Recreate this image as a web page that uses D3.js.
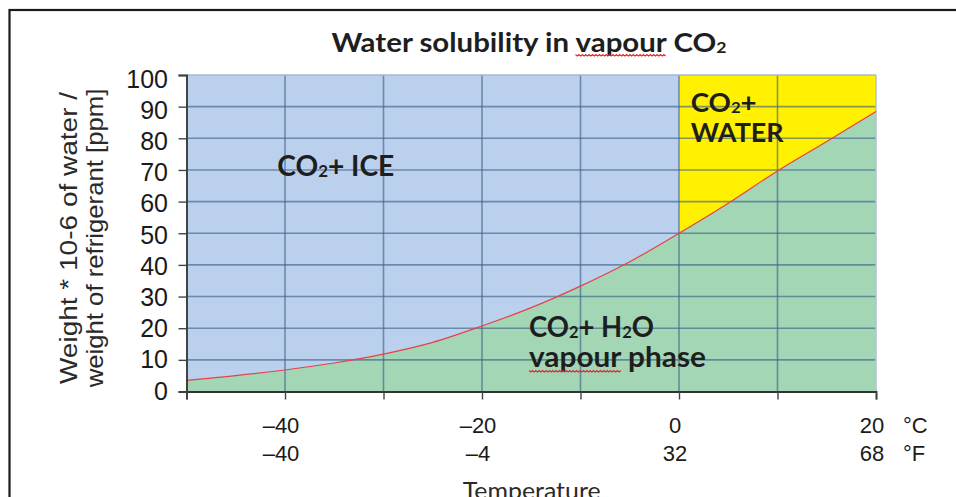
<!DOCTYPE html>
<html>
<head>
<meta charset="utf-8">
<script src="https://cdn.jsdelivr.net/npm/d3@7/dist/d3.min.js"></script>
<style>
  html, body { margin: 0; padding: 0; background: #fff; }
  svg { display: block; }
</style>
</head>
<body>
<svg id="chart" width="956" height="497"></svg>
<script>
// Water solubility in vapour CO2: saturation limit (ppm by weight) vs temperature
const tempC = [-50, -45, -40, -35, -30, -25, -20, -15, -10, -5, 0, 5, 10, 15, 20];
const solubilityPpm = [3.5, 5.0, 6.8, 9.0, 11.8, 15.5, 20.7, 26.5, 33.3, 41.0, 50.0, 59.5, 69.7, 79.0, 88.5];
const yTicks = [0, 10, 20, 30, 40, 50, 60, 70, 80, 90, 100];
const xTicks = [-50, -40, -30, -20, -10, 0, 10, 20];
const xLabelC = [-40, -20, 0, 20];
const xLabelCText = ["–40", "–20", "0", "20"];
const xLabelFText = ["–40", "–4", "32", "68"];

const svg = d3.select("#chart");
const x = d3.scaleLinear().domain([-50, 20]).range([186.5, 876]);
const y = d3.scaleLinear().domain([0, 100]).range([391.5, 75]);
// tick numbers are set on a slightly tighter pitch than the grid
const yLab = d3.scaleLinear().domain([0, 100]).range([390.5, 78.5]);

const points = tempC.map((t, i) => [t, solubilityPpm[i]]);

// outer frame
svg.append("rect")
  .attr("x", 9.5).attr("y", 10).attr("width", 1000).attr("height", 600)
  .attr("fill", "none").attr("stroke", "#1a1a1a").attr("stroke-width", 2.2);

// phase regions: ice above the curve below 0 °C, liquid water above it above 0 °C
svg.append("rect")
  .attr("x", x(-50)).attr("y", y(100))
  .attr("width", x(0) - x(-50)).attr("height", y(0) - y(100))
  .attr("fill", "#bad0ec");
svg.append("rect")
  .attr("x", x(0)).attr("y", y(100))
  .attr("width", x(20) - x(0)).attr("height", y(0) - y(100))
  .attr("fill", "#fff100");

const curve = d3.curveMonotoneX;
svg.append("path")
  .datum(points)
  .attr("fill", "#a3d6b5")
  .attr("d", d3.area().curve(curve).x(d => x(d[0])).y0(y(0)).y1(d => y(d[1])));

// grid
const grid = svg.append("g").attr("stroke", "rgba(60,95,135,0.62)").attr("stroke-width", 1.6);
yTicks.filter(v => v > 0 && v < 100).forEach(v => {
  grid.append("line").attr("x1", x(-50)).attr("x2", x(20)).attr("y1", y(v)).attr("y2", y(v));
});
xTicks.filter(v => v > -50 && v < 20).forEach(v => {
  grid.append("line").attr("x1", x(v)).attr("x2", x(v)).attr("y1", y(0)).attr("y2", y(100));
});
// light top and right borders of the plot
svg.append("line").attr("x1", x(-50)).attr("x2", x(20)).attr("y1", y(100)).attr("y2", y(100))
  .attr("stroke", "#a8b8cc").attr("stroke-width", 1.6);
svg.append("line").attr("x1", x(20)).attr("x2", x(20)).attr("y1", y(0)).attr("y2", y(100))
  .attr("stroke", "#b4c3d3").attr("stroke-width", 1.6);

// saturation curve
svg.append("path")
  .datum(points)
  .attr("fill", "none")
  .attr("stroke", "#e8404a")
  .attr("stroke-width", 1.2)
  .attr("d", d3.line().curve(curve).x(d => x(d[0])).y(d => y(d[1])));

// axes
const yAxis = d3.axisLeft(y).tickValues(yTicks).tickSize(8).tickFormat("");
const xAxis = d3.axisBottom(x).tickValues(xTicks).tickSize(8).tickFormat("");
const gy = svg.append("g").attr("transform", `translate(${x(-50)},0)`).call(yAxis);
const gx = svg.append("g").attr("transform", `translate(0,${y(0)})`).call(xAxis);
[gy, gx].forEach(g => {
  g.select(".domain").attr("stroke", "#333").attr("stroke-width", 1.8);
  g.selectAll(".tick line").attr("stroke", "#444").attr("stroke-width", 1.4);
});

// y tick labels
svg.append("g").selectAll("text").data(yTicks).join("text")
  .attr("x", 168)
  .attr("y", d => yLab(d))
  .attr("dy", "0.36em")
  .attr("text-anchor", "end")
  .attr("font-family", "'Liberation Sans Narrow', 'Arial Narrow', sans-serif")
  .attr("font-size", 25)
  .attr("fill", "#1a1a1a")
  .text(d => d);

// x tick labels, °C and °F rows
const xl = svg.append("g")
  .attr("font-family", "'Liberation Sans', Arial, sans-serif")
  .attr("font-size", 22).attr("fill", "#1a1a1a").attr("text-anchor", "middle");
xl.selectAll("text.c").data(xLabelC).join("text").attr("class", "c")
  .attr("x", d => x(d) - 4).attr("y", 433).text((d, i) => xLabelCText[i]);
xl.selectAll("text.f").data(xLabelC).join("text").attr("class", "f")
  .attr("x", d => x(d) - 4).attr("y", 461).text((d, i) => xLabelFText[i]);
xl.append("text").attr("text-anchor", "start").attr("x", x(20) + 27).attr("y", 433).text("°C");
xl.append("text").attr("text-anchor", "start").attr("x", x(20) + 27).attr("y", 461).text("°F");

// text helper: runs of text with optional subscripts, stretched to a given width
function richText(parts, opt) {
  const t = svg.append("text")
    .attr("font-family", opt.family)
    .attr("font-size", opt.size)
    .attr("font-weight", opt.weight || "normal")
    .attr("fill", opt.fill || "#1e1e1e")
    .attr("text-anchor", opt.anchor || "start")
    .attr("x", 0).attr("y", 0);
  let shifted = false;
  parts.forEach(p => {
    const s = t.append("tspan").text(p.sub || p.t);
    if (p.sub) {
      s.attr("font-size", opt.size * 0.6).attr("dy", opt.size * 0.04);
      shifted = true;
    } else if (shifted) {
      s.attr("dy", -opt.size * 0.04);
      shifted = false;
    }
  });
  const w = t.node().getBBox().width;
  const sx = opt.width ? opt.width / w : 1;
  t.attr("transform", `translate(${opt.x},${opt.y}) ${opt.rotate ? `rotate(${opt.rotate})` : ""} scale(${sx},1)`);
  return { node: t.node(), sx };
}

// spell-check style squiggle under a word
function squiggle(x0, x1, yy) {
  const step = 1.7;
  let d = `M${x0},${yy}`;
  let k = 0;
  for (let xx = x0 + step; xx <= x1; xx += step, k++) {
    d += `L${xx},${yy + (k % 2 === 0 ? 1.6 : 0)}`;
  }
  svg.append("path").attr("d", d).attr("fill", "none")
    .attr("stroke", "#e0262c").attr("stroke-width", 1.1);
}

function underlineWord(res, word, x0, yy) {
  const full = res.node.textContent;
  const idx = full.indexOf(word);
  const a = res.node.getSubStringLength(0, idx) * res.sx;
  const b = res.node.getSubStringLength(idx, word.length) * res.sx;
  squiggle(x0 + a, x0 + a + b, yy);
}

const boldFont = "Lato, 'Open Sans', sans-serif";

// title
const title = richText([{ t: "Water solubility in vapour CO" }, { sub: "2" }],
  { family: boldFont, weight: "bold", size: 26, x: 331.5, y: 51.7, width: 395 });
underlineWord(title, "vapour", 331.5, 54.5);

// region labels
richText([{ t: "CO" }, { sub: "2" }, { t: "+ ICE" }],
  { family: boldFont, weight: "bold", size: 28, x: 277.3, y: 175.7, width: 117 });
richText([{ t: "CO" }, { sub: "2" }, { t: "+" }],
  { family: boldFont, weight: "bold", size: 26.5, x: 690.7, y: 111.7, width: 66 });
richText([{ t: "WATER" }],
  { family: boldFont, weight: "bold", size: 26.5, x: 690.7, y: 141.7, width: 94 });
richText([{ t: "CO" }, { sub: "2" }, { t: "+ H" }, { sub: "2" }, { t: "O" }],
  { family: boldFont, weight: "bold", size: 28, x: 529, y: 336.7, width: 125 });
const vap = richText([{ t: "vapour phase" }],
  { family: boldFont, weight: "bold", size: 28, x: 529, y: 366.7, width: 177 });
underlineWord(vap, "vapour", 529, 370.5);

// axis titles
richText([{ t: "Weight * 10-6 of water /" }],
  { family: "'Liberation Sans', Arial, sans-serif", size: 23, anchor: "middle",
    x: 77, y: 238, rotate: -90, width: 293, fill: "#2a2a2a" });
richText([{ t: "weight of refrigerant [ppm]" }],
  { family: "'Liberation Sans', Arial, sans-serif", size: 23, anchor: "middle",
    x: 103, y: 238, rotate: -90, width: 300, fill: "#2a2a2a" });
richText([{ t: "Temperature" }],
  { family: "Lato, 'Open Sans', sans-serif", size: 24, x: 462.7, y: 499, width: 138, fill: "#2a2a2a" });
</script>
</body>
</html>
